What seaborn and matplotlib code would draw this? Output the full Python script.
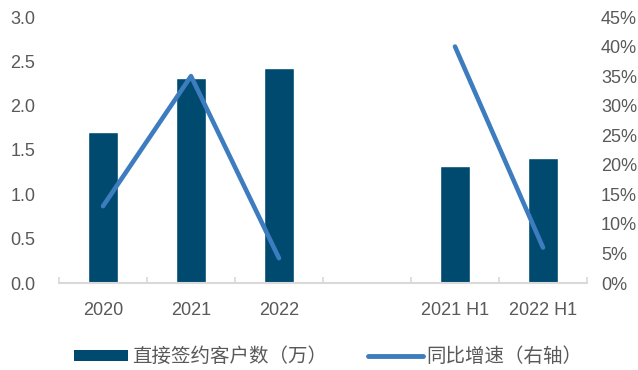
import matplotlib
matplotlib.use("Agg")
import matplotlib.pyplot as plt
from matplotlib.patches import Patch
from matplotlib.lines import Line2D
from matplotlib.ticker import FuncFormatter, FixedLocator
import seaborn as sns
import pandas as pd

# Data
periods = ["2020", "2021", "2022", "2021 H1", "2022 H1"]
clients = [1.70, 2.31, 2.42, 1.32, 1.41]          # 直接签约客户数（万）
growth = [0.13, 0.35, 0.042, 0.40, 0.06]          # 同比增速（右轴）
segments = ["annual", "annual", "annual", "half", "half"]
slot_order = ["2020", "2021", "2022", "", "2021 H1", "2022 H1"]

bar_color = "#004a70"
line_color = "#3d7dbf"
text_color = "#595959"
axis_color = "#d9d9d9"

sns.set_theme(style="white")
plt.rcParams["font.family"] = ["Liberation Sans", "Noto Sans CJK SC", "DejaVu Sans"]

fig = plt.figure(figsize=(6.38, 3.70), dpi=100)
ax = fig.add_axes([59 / 638, 87 / 370, 528 / 638, 266 / 370])

bar_df = pd.DataFrame({"period": periods, "clients": clients})
sns.barplot(data=bar_df, x="period", y="clients", order=slot_order,
            color=bar_color, saturation=1, width=0.34, ax=ax)

ax2 = ax.twinx()
slot_pos = [slot_order.index(p) for p in periods]
line_df = pd.DataFrame({"pos": slot_pos, "growth": growth, "seg": segments})
sns.lineplot(data=line_df, x="pos", y="growth", units="seg", estimator=None,
             sort=False, color=line_color, lw=3.3, ax=ax2,
             solid_capstyle="round", solid_joinstyle="round")

for a in (ax, ax2):
    a.set_xlim(-0.5, 5.5)
    a.set_xlabel("")
    a.set_ylabel("")
    for s in a.spines.values():
        s.set_visible(False)

ax.set_ylim(0, 3.0)
ax.set_yticks([0, 0.5, 1.0, 1.5, 2.0, 2.5, 3.0])
ax.yaxis.set_major_formatter(FuncFormatter(lambda v, _: f"{v:.1f}"))
ax.tick_params(axis="y", length=0, pad=17, labelsize=13, labelcolor=text_color)

ax2.set_ylim(0, 0.45)
ax2.set_yticks([i * 0.05 for i in range(10)])
ax2.yaxis.set_major_formatter(FuncFormatter(lambda v, _: f"{round(v * 100):d}%"))
ax2.tick_params(axis="y", length=0, pad=10, labelsize=13, labelcolor=text_color)

ax.spines["bottom"].set_visible(True)
ax.spines["bottom"].set_color(axis_color)
ax.spines["bottom"].set_linewidth(1.5)
ax.set_xticks(range(len(slot_order)))
ax.set_xticklabels(slot_order)
ax.xaxis.set_minor_locator(FixedLocator([i - 0.5 for i in range(len(slot_order) + 1)]))
ax.tick_params(axis="x", which="major", length=0, pad=14, labelsize=13, labelcolor=text_color)
ax.tick_params(axis="x", which="minor", bottom=True, direction="in", length=4.5,
               width=1.2, color=axis_color)
ax2.tick_params(axis="x", bottom=False, labelbottom=False)
ax.grid(False)
ax2.grid(False)

handles = [
    Patch(facecolor=bar_color, edgecolor="none", label="直接签约客户数（万）"),
    Line2D([], [], color=line_color, lw=3.5, solid_capstyle="round", label="同比增速（右轴）"),
]
leg = fig.legend(handles=handles, loc="center left", bbox_to_anchor=(74 / 638, 1 - 357 / 370),
                 ncol=2, frameon=False, fontsize=14, handlelength=2.8, handleheight=0.55,
                 handletextpad=0.2, columnspacing=2.1, borderpad=0, borderaxespad=0)
for t in leg.get_texts():
    t.set_color(text_color)

fig.savefig("out.png", dpi=100)
